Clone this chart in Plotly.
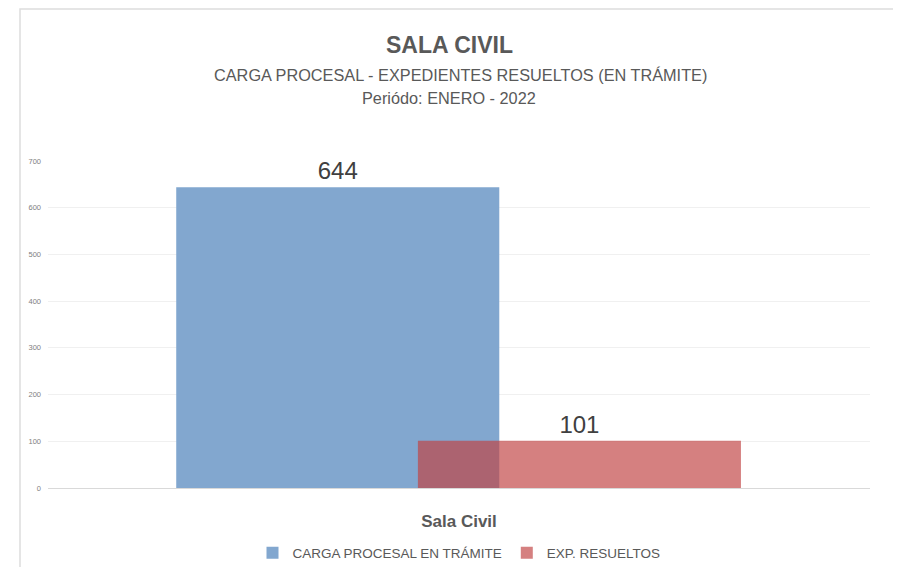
import plotly.graph_objects as go

categories = ["Sala Civil"]
series_names = ["CARGA PROCESAL EN TRÁMITE", "EXP. RESUELTOS"]
carga_tramite = [644]
exp_resueltos = [101]
y_ticks = [0, 100, 200, 300, 400, 500, 600, 700]

# page body has an 8px margin; work in reference pixel coords and shift
OFF = 8
W, H = 901 - OFF, 567 - OFF
L, R, T, B = 48, 870, 161, 488  # plot area in reference pixels
ml, mt = L - OFF, T - OFF
mr = W - (R - OFF)
mb = H - (B - OFF)
pw, ph = R - L, B - T

FONT = "Liberation Sans, Arial"

fig = go.Figure()
fig.add_trace(go.Bar(
    x=categories, y=carga_tramite, name=series_names[0],
    marker=dict(color="rgb(130,167,207)", line=dict(width=0)),
    width=0.393, offset=-0.344,
    text=[str(v) for v in carga_tramite], textposition="outside",
    textfont=dict(size=24, color="#404040", family=FONT),
    cliponaxis=False,
))
fig.add_trace(go.Bar(
    x=categories, y=exp_resueltos, name=series_names[1],
    marker=dict(color="rgba(192,66,66,0.67)", line=dict(width=0)),
    width=0.393, offset=-0.05,
    text=[str(v) for v in exp_resueltos], textposition="outside",
    textfont=dict(size=24, color="#404040", family=FONT),
    cliponaxis=False,
))

def px_x(x):
    return (x - L) / pw

def px_y(y):
    return (B - y) / ph

annotations = [
    dict(text="<b>SALA CIVIL</b>", x=px_x(449), y=px_y(45), xref="paper", yref="paper",
         showarrow=False, xanchor="center", yanchor="middle",
         font=dict(size=23, color="#595959", family=FONT)),
    dict(text="CARGA PROCESAL - EXPEDIENTES RESUELTOS (EN TRÁMITE)", x=px_x(460), y=px_y(75),
         xref="paper", yref="paper", showarrow=False, xanchor="center", yanchor="middle",
         font=dict(size=16.3, color="#595959", family=FONT)),
    dict(text="Periódo: ENERO - 2022", x=px_x(449), y=px_y(98),
         xref="paper", yref="paper", showarrow=False, xanchor="center", yanchor="middle",
         font=dict(size=16.3, color="#595959", family=FONT)),
]

fig.update_layout(
    width=W, height=H,
    margin=dict(l=ml, r=mr, t=mt, b=mb, pad=0, autoexpand=False),
    paper_bgcolor="white", plot_bgcolor="white",
    barmode="overlay",
    showlegend=True,
    legend=dict(orientation="h", x=0.5, xanchor="center",
                yref="container", y=1 - (553 - OFF) / H, yanchor="middle",
                font=dict(size=13.5, color="#595959", family=FONT),
                itemwidth=30, traceorder="normal"),
    annotations=annotations,
    font=dict(family=FONT),
    shapes=[dict(type="rect", xref="paper", yref="paper",
                 x0=px_x(20), x1=px_x(897), y0=px_y(640), y1=px_y(OFF + 1),
                 line=dict(color="#DDDDDD", width=1.5), fillcolor="rgba(0,0,0,0)", layer="below")],
)
fig.update_xaxes(
    range=[-0.5, 0.5], showgrid=False, showline=True, linecolor="#D9D9D9", linewidth=1,
    ticks="", ticklabelstandoff=18,
    tickfont=dict(size=17, color="#595959", family=FONT),
    tickvals=categories, ticktext=["<b>%s</b>" % c for c in categories],
)
fig.update_yaxes(
    range=[0, 700], tickvals=y_ticks, showgrid=True, gridcolor="#F0F0F0", gridwidth=1,
    zeroline=False, showline=False, ticks="",
    tickfont=dict(size=7.5, color="#808080", family=FONT),
    ticklabelstandoff=6,
)

fig.write_html("out.html")
